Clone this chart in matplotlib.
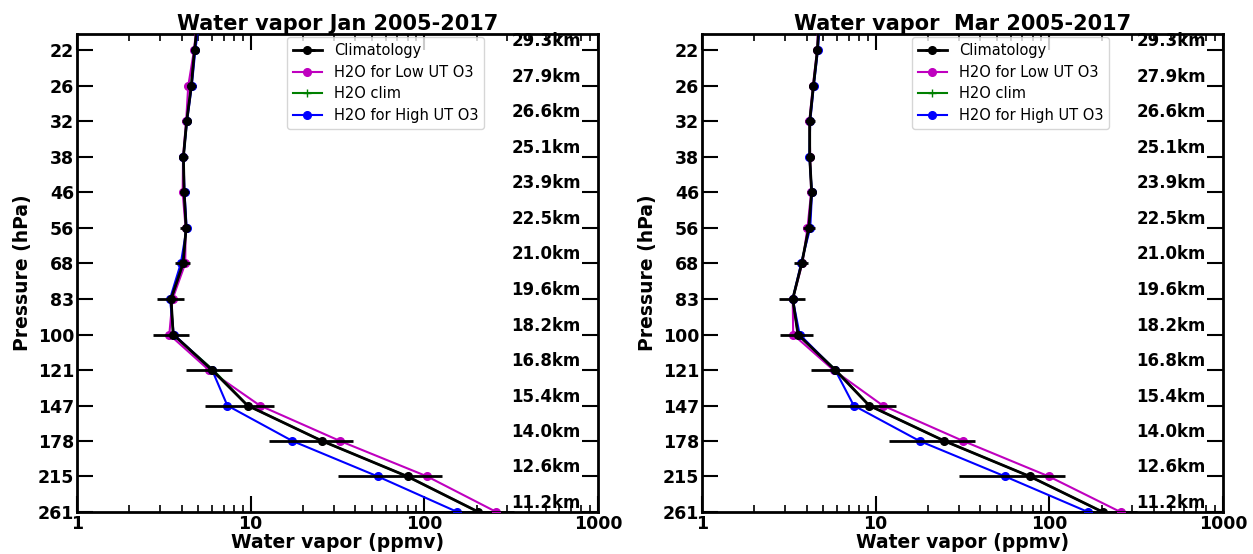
import numpy as np
import matplotlib
matplotlib.use('Agg')
import matplotlib.pyplot as plt
import matplotlib.transforms as mtransforms

# MLS pressure levels (hPa), bottom to top
pres = [261.0, 215.4, 177.8, 146.8, 121.2, 100.0, 82.5, 68.1, 56.2, 46.4, 38.3, 31.6, 26.1, 21.5, 17.8]
ytick_pres = [261.0, 215.4, 177.8, 146.8, 121.2, 100.0, 82.5, 68.1, 56.2, 46.4, 38.3, 31.6, 26.1, 21.5]
ytick_labels = ['261', '215', '178', '147', '121', '100', '83', '68', '56', '46', '38', '32', '26', '22']
km_labels = ['11.2km', '12.6km', '14.0km', '15.4km', '16.8km', '18.2km', '19.6km', '21.0km',
             '22.5km', '23.9km', '25.1km', '26.6km', '27.9km', '29.3km']
xticks = [1, 10, 100, 1000]

# January
clim_jan = [205, 80, 25.8, 9.6, 6.0, 3.58, 3.48, 4.08, 4.25, 4.14, 4.10, 4.28, 4.55, 4.75, 5.0]
low_jan = [260, 104, 32.7, 11.3, 5.75, 3.40, 3.55, 4.20, 4.22, 4.06, 4.08, 4.25, 4.37, 4.72, 4.95]
gclim_jan = [205, 80, 25.8, 9.6, 6.1, 3.58, 3.48, 4.08, 4.25, 4.14, 4.10, 4.28, 4.55, 4.75, 5.0]
high_jan = [155, 54, 17.4, 7.34, 6.0, 3.61, 3.43, 3.96, 4.28, 4.16, 4.10, 4.30, 4.58, 4.8, 5.1]
errlo_jan = [80, 32, 12.7, 5.44, 4.25, 2.74, 2.88, 3.67, 3.93, 3.9, 3.85, 4.05, 4.30, 4.55, 4.8]
errhi_jan = [330, 127, 38.7, 13.6, 7.81, 4.39, 4.13, 4.5, 4.46, 4.4, 4.35, 4.55, 4.85, 5.0, 5.2]

# March
clim_mar = [203, 77.3, 24.9, 9.18, 5.85, 3.57, 3.33, 3.75, 4.12, 4.28, 4.17, 4.17, 4.38, 4.62, 4.75]
low_mar = [257, 99.5, 31.9, 11.0, 5.72, 3.35, 3.33, 3.78, 4.05, 4.25, 4.2, 4.15, 4.35, 4.6, 4.7]
gclim_mar = [203, 77.3, 24.9, 9.18, 5.9, 3.57, 3.33, 3.75, 4.12, 4.28, 4.17, 4.17, 4.38, 4.62, 4.75]
high_mar = [167, 55.7, 17.9, 7.48, 5.85, 3.65, 3.33, 3.72, 4.2, 4.3, 4.15, 4.2, 4.4, 4.65, 4.8]
errlo_mar = [80, 30.2, 12.0, 5.22, 4.26, 2.82, 2.76, 3.4, 3.8, 4.05, 3.95, 3.9, 4.15, 4.4, 4.5]
errhi_mar = [320, 123, 37.4, 13.1, 7.45, 4.33, 3.91, 4.1, 4.5, 4.5, 4.4, 4.45, 4.6, 4.85, 5.0]


def plot_panel(ax, title, clim, low, gclim, high, errlo, errhi):
    clim = np.array(clim)
    xerr = [clim - np.array(errlo), np.array(errhi) - clim]
    l2, = ax.plot(low, pres, 'm-o', lw=1.5, ms=5.5, label='H2O for Low UT O3', zorder=3)
    l3, = ax.plot(gclim, pres, 'g-+', lw=1.5, ms=6, label='H2O clim', zorder=3)
    l4, = ax.plot(high, pres, 'b-o', lw=1.5, ms=5.5, label='H2O for High UT O3', zorder=3)
    eb = ax.errorbar(clim, pres, xerr=xerr, fmt='k-o', lw=2, ms=5.5, elinewidth=2,
                     capsize=0, label='Climatology', zorder=4)
    ax.set_xscale('log')
    ax.set_yscale('log')
    ax.set_xlim(1, 1000)
    ax.set_ylim(261.0, 19.7)
    ax.set_yticks(ytick_pres)
    ax.set_yticklabels(ytick_labels, fontweight='bold', fontsize=12.5)
    ax.yaxis.set_minor_locator(matplotlib.ticker.NullLocator())
    ax.set_xticks(xticks)
    ax.set_xticklabels([str(v) for v in xticks], fontweight='bold', fontsize=12.5)
    ax.tick_params(axis='both', which='major', direction='in', length=11.5, width=1.5,
                   top=True, right=True, pad=2)
    ax.tick_params(axis='x', which='minor', direction='in', length=5, width=1.2, top=True)
    for s in ax.spines.values():
        s.set_linewidth(2)
    trans = mtransforms.blended_transform_factory(ax.transAxes, ax.transData)
    for p, lab in zip(ytick_pres, km_labels):
        ax.text(0.967, p, lab, transform=trans, ha='right', va='bottom',
                fontsize=12, fontweight='bold')
    ax.set_title(title, fontsize=15, fontweight='bold', pad=3)
    ax.set_xlabel('Water vapor (ppmv)', fontsize=13.5, fontweight='bold', labelpad=0)
    ax.set_ylabel('Pressure (hPa)', fontsize=13.5, fontweight='bold', labelpad=4)
    ax.legend([eb, l2, l3, l4], ['Climatology', 'H2O for Low UT O3', 'H2O clim', 'H2O for High UT O3'],
              loc='upper left', bbox_to_anchor=(0.403, 0.993), fontsize=10.5,
              borderaxespad=0, handlelength=2, labelspacing=0.45)


fig = plt.figure(figsize=(12.53, 5.54), dpi=100)
ax1 = fig.add_axes([77 / 1253, 42 / 554, 521 / 1253, 478 / 554])
ax2 = fig.add_axes([702 / 1253, 42 / 554, 521 / 1253, 478 / 554])

plot_panel(ax1, 'Water vapor Jan 2005-2017', clim_jan, low_jan, gclim_jan, high_jan, errlo_jan, errhi_jan)
plot_panel(ax2, 'Water vapor  Mar 2005-2017', clim_mar, low_mar, gclim_mar, high_mar, errlo_mar, errhi_mar)

fig.savefig('out.png', dpi=100)
